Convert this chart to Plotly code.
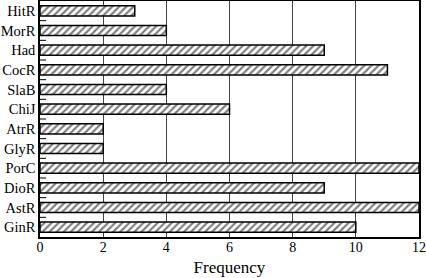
import plotly.graph_objects as go

categories = ["GinR", "AstR", "DioR", "PorC", "GlyR", "AtrR", "ChiJ", "SlaB", "CocR", "Had", "MorR", "HitR"]
frequency = [10, 12, 9, 12, 2, 2, 6, 4, 11, 9, 4, 3]
x_ticks = [0, 2, 4, 6, 8, 10, 12]

positions = list(range(len(categories)))
boundaries = [p + 0.5 for p in positions[:-1]]

fig = go.Figure()
fig.add_trace(go.Bar(
    x=frequency, y=positions, orientation="h",
    marker=dict(
        color="white",
        line=dict(color="black", width=1.5),
        pattern=dict(shape="/", fgcolor="black", bgcolor="white", size=5, solidity=0.45),
    ),
))

# small inward tick marks at the category boundaries on the left axis
for b in boundaries:
    fig.add_shape(type="line", xref="x domain", yref="y", x0=0, x1=0.016, y0=b, y1=b,
                  line=dict(color="black", width=1), layer="above")

fig.update_layout(
    width=426, height=278,
    margin=dict(l=40, r=7, t=1, b=41),
    plot_bgcolor="white", paper_bgcolor="white",
    font=dict(family="Liberation Serif", size=14.5, color="black"),
    bargap=0.48,
    showlegend=False,
    xaxis=dict(
        range=[0, 12], tickvals=x_ticks, showgrid=True, gridcolor="#444444", gridwidth=1,
        zeroline=False, showline=True, linecolor="black", linewidth=1.5, mirror=True,
        ticks="", automargin=False, tickfont=dict(size=14), ticklabelstandoff=-4,
        title=dict(text="Frequency", standoff=8),
    ),
    yaxis=dict(
        tickvals=positions, ticktext=categories, ticks="",
        showline=True, linecolor="black", linewidth=1.5, mirror=True,
        showgrid=False, zeroline=False, range=[-0.5, 11.5], automargin=False,
    ),
)

fig.write_html("out.html", config={"displayModeBar": False},
               post_script="document.body.style.margin='0';")
